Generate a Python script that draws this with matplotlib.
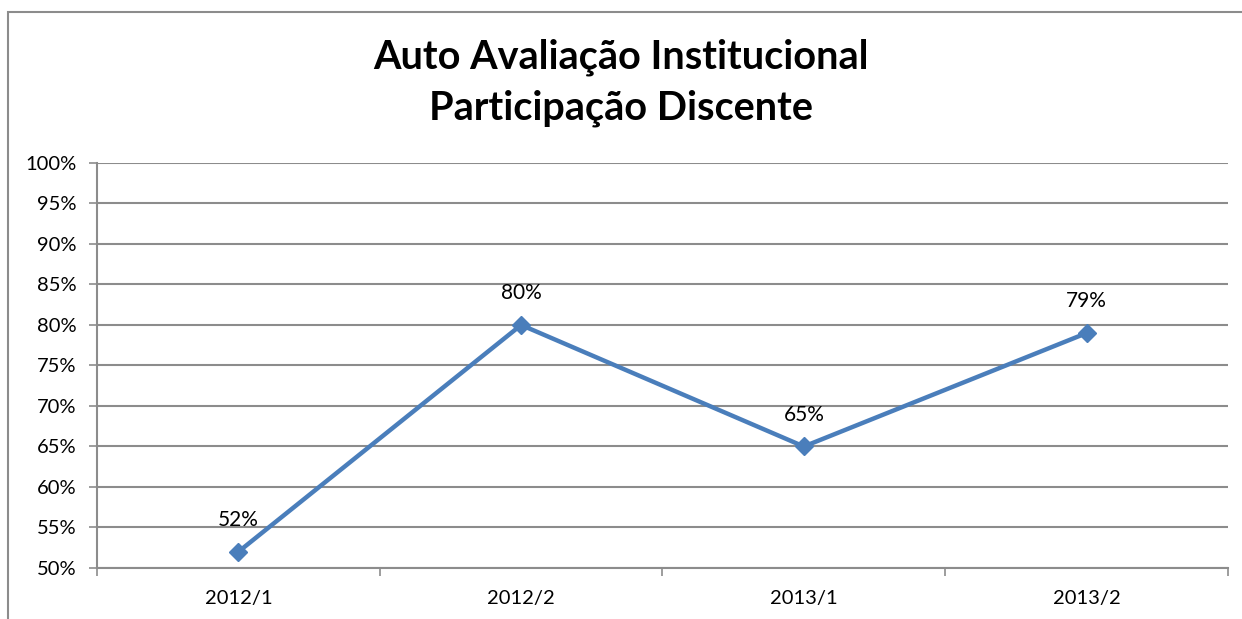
import matplotlib.pyplot as plt
from matplotlib.patches import Rectangle
from matplotlib.ticker import FuncFormatter, MultipleLocator

plt.rcParams["font.family"] = ["Lato", "DejaVu Sans"]

semesters = ["2012/1", "2012/2", "2013/1", "2013/2"]
participation = [52, 80, 65, 79]
labels = ["52%", "80%", "65%", "79%"]

LINE_COLOR = "#4A7EBB"
GRID_COLOR = "#8C8C8C"

fig = plt.figure(figsize=(12.42, 6.19), dpi=100)
ax = fig.add_axes([0.0781, 0.0824, 0.9106, 0.6543])

# chart border (cropped on right/bottom in the original)
fig.patches.append(Rectangle((8 / 1242, -0.1), 1.2, 1 - 12 / 619 + 0.1,
                             transform=fig.transFigure, fill=False,
                             edgecolor=GRID_COLOR, linewidth=1.5))

x = range(len(semesters))
ax.plot(x, participation, color=LINE_COLOR, linewidth=3.2, marker="D",
        markersize=9, markerfacecolor=LINE_COLOR, markeredgecolor=LINE_COLOR)

for xi, yi, txt in zip(x, participation, labels):
    ax.annotate(txt, (xi, yi), xytext=(0, 23), textcoords="offset points",
                ha="center", va="center", fontsize=15)

ax.set_xlim(-0.5, len(semesters) - 0.5)
ax.set_ylim(50, 100)
ax.yaxis.set_major_locator(MultipleLocator(5))
ax.yaxis.set_major_formatter(FuncFormatter(lambda v, _: f"{v:.0f}%"))
ax.set_xticks(list(x))
ax.set_xticklabels(semesters)
ax.set_xticks([i - 0.5 for i in range(len(semesters) + 1)], minor=True)
ax.tick_params(axis="x", which="major", length=0, pad=16, labelsize=14.5)
ax.tick_params(axis="x", which="minor", length=6, width=1.2, color=GRID_COLOR)
ax.tick_params(axis="y", length=6, width=1.2, color=GRID_COLOR, pad=9, labelsize=14.5)

ax.grid(axis="y", color=GRID_COLOR, linewidth=1.5)
ax.set_axisbelow(True)
for side in ["top", "right"]:
    ax.spines[side].set_visible(False)
for side in ["left", "bottom"]:
    ax.spines[side].set_color(GRID_COLOR)
    ax.spines[side].set_linewidth(1.5)

fig.text(0.5, 1 - 57 / 619, "Auto Avaliação Institucional", ha="center", va="center",
         fontsize=28.5, fontweight="bold")
fig.text(0.5, 1 - 108 / 619, "Participação Discente", ha="center", va="center",
         fontsize=28.5, fontweight="bold")

fig.savefig("out.png", dpi=100)
